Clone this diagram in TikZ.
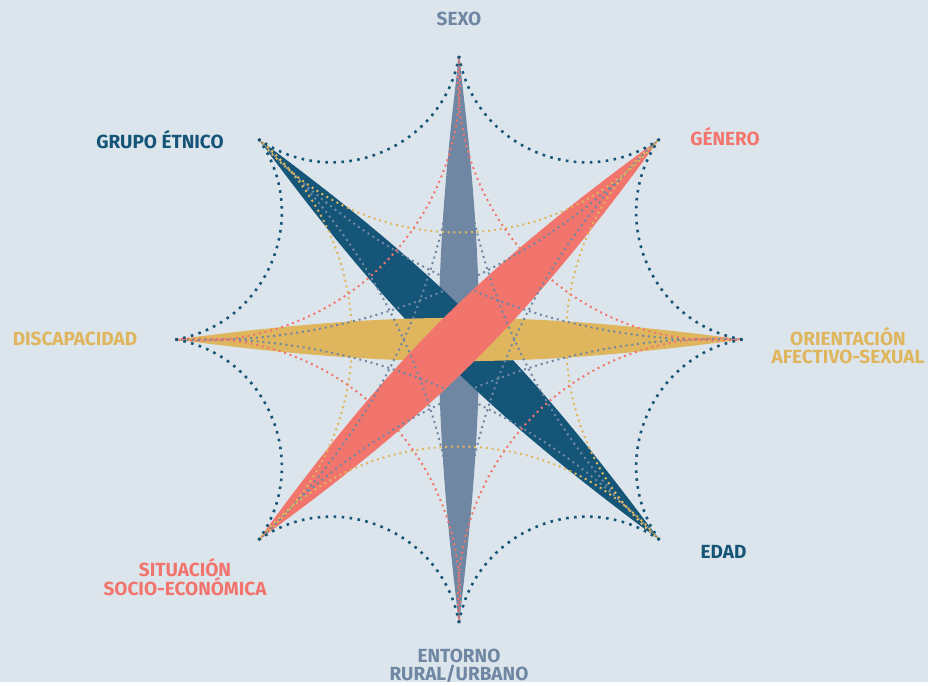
\documentclass[tikz,border=0pt]{standalone}
\usepackage{fontspec}
\setmainfont{Fira Sans}
\definecolor{bg}{RGB}{221,229,236}
\definecolor{slate}{RGB}{112,135,163}
\definecolor{navy}{RGB}{20,85,120}
\definecolor{gold}{RGB}{223,182,94}
\definecolor{coral}{RGB}{242,117,109}
\begin{document}
\begin{tikzpicture}[x=1pt,y=1pt,
  lbl/.style={font=\bfseries\fontsize{19}{18.5}\selectfont, anchor=base, align=center},
  bigdots/.style={navy, line width=2.6pt, dash pattern=on 2.6pt off 5.4pt},
  smalldots/.style={line width=2pt, dash pattern=on 2pt off 3.8pt}]
\fill[bg] (-459,-342.5) rectangle (469,339.5);
% the eight points
\foreach \a [count=\i from 0] in {90,135,180,225,270,315,0,45} {\coordinate (p\i) at (\a:283.5);}
% spindles
\fill[slate] (p0) to[bend left=7] (p4) to[bend left=7] (p0);
\fill[navy] (p1) to[bend left=8.5] (p5) to[bend left=8.5] (p1);
\fill[gold] (p2) to[bend left=7.5] (p6) to[bend left=7.5] (p2);
\fill[coral] (p3) to[bend left=9] (p7) to[bend left=9] (p3);
% dotted arcs
\foreach \i in {0,...,7} {
  \pgfmathtruncatemacro\j{mod(\i+3,8)}
  \draw[smalldots, slate] (p\i) to[bend left=25, looseness=0.89] (p\j);
}
\foreach \i/\j in {1/3,3/5,5/7,7/1} {\draw[smalldots, gold] (p\i) to[bend left=50, looseness=1.04] (p\j);}
\foreach \i/\j in {0/2,2/4,4/6,6/0} {\draw[smalldots, coral] (p\i) to[bend left=50, looseness=1.04] (p\j);}
\foreach \i in {0,...,7} {
  \pgfmathtruncatemacro\j{mod(\i+1,8)}
  \draw[bigdots] (p\i) to[bend left=58, looseness=1.1] (p\j);
}
% labels
\node[lbl, text=slate] (sexo) at (0,313.5) {SEXO};
\node[lbl, text=navy] (etnico) at (-299,191) {GRUPO ÉTNICO};
\node[lbl, text=coral] (genero) at (266,193.5) {GÉNERO};
\node[lbl, text=gold] (discap) at (-384,-5.5) {DISCAPACIDAD};
\node[lbl, text=gold] (orient) at (389,-24) {ORIENTACIÓN\\AFECTIVO-SEXUAL};
\node[lbl, text=coral] (socio) at (-274,-255.5) {SITUACIÓN\\SOCIO-ECONÓMICA};
\node[lbl, text=navy] (edad) at (264.5,-219) {EDAD};
\node[lbl, text=slate] (entorno) at (0,-341) {ENTORNO\\RURAL/URBANO};
\end{tikzpicture}
\end{document}
